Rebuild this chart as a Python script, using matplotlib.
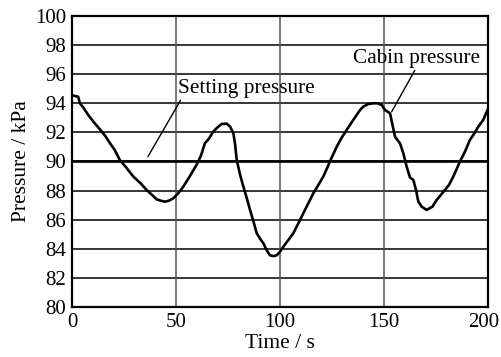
import matplotlib.pyplot as plt
from matplotlib.transforms import ScaledTranslation

plt.rcParams['font.family'] = ['Liberation Serif', 'DejaVu Serif']

# cabin pressure trace, read point by point
time_s = [0, 1.5, 3, 3.8, 5.5, 7.8, 10.5, 13.5, 16, 18.3, 20.5, 23, 26, 29.5, 33, 35.9,
          38.5, 40.7, 42.8, 44.7, 46.5, 48.7, 51, 53.5, 56.7, 60, 62, 63.9, 66, 67.9, 70,
          72, 74.4, 76, 77.6, 78.4, 79.2, 80.8, 82.4, 84, 85.6, 87.2, 88.8, 90.4, 92, 93.6,
          95.2, 96.8, 98.4, 100, 101.6, 104, 106.4, 109, 111.2, 114.4, 116, 118.5, 120.8,
          122.5, 124, 125.6, 127.3, 129.5, 132, 135.2, 138.5, 140, 142.5, 144.9, 147,
          148.9, 150.5, 152.9, 155.3, 157.7, 159.3, 160.9, 162.5, 164.1, 165.4, 166.5,
          168.1, 170.5, 173.3, 175.3, 177.3, 179.3, 181.3, 183.3, 185, 186.5, 189,
          191.3, 193.3, 195.3, 197.7, 199, 200]
cabin_kpa = [94.55, 94.5, 94.45, 94.0, 93.7, 93.2, 92.7, 92.2, 91.75, 91.25, 90.8, 90.1,
             89.6, 88.96, 88.5, 88.04, 87.7, 87.4, 87.3, 87.24, 87.3, 87.47, 87.8, 88.27,
             89.0, 89.8, 90.4, 91.25, 91.6, 92.05, 92.35, 92.58, 92.6, 92.4, 91.94, 91.2,
             90.1, 89.1, 88.27, 87.5, 86.67, 85.9, 85.07, 84.7, 84.38, 83.9, 83.55, 83.5,
             83.55, 83.8, 84.14, 84.6, 85.07, 85.8, 86.44, 87.35, 87.81, 88.4, 88.96, 89.5,
             90.0, 90.5, 91.02, 91.6, 92.16, 92.85, 93.54, 93.77, 93.95, 94.0, 94.0, 93.88,
             93.54, 93.31, 91.7, 91.25, 90.56, 89.64, 88.9, 88.73, 88.04, 87.24, 86.9,
             86.67, 86.9, 87.35, 87.7, 88.04, 88.4, 88.96, 89.5, 89.99, 90.7, 91.48, 91.9,
             92.39, 92.85, 93.3, 93.6]

setting_kpa = 90.0

xticks = [0, 50, 100, 150, 200]
yticks = [80, 82, 84, 86, 88, 90, 92, 94, 96, 98, 100]

fig = plt.figure(figsize=(5.02, 3.57), dpi=100)
ax = fig.add_axes([0.1434, 0.1401, 0.8287, 0.8151])

for y in yticks[1:-1]:
    ax.axhline(y, color='black', lw=1.1, zorder=1)
for x in xticks[1:-1]:
    ax.axvline(x, color='#555555', lw=1.1, zorder=1)

ax.plot([0, 199], [setting_kpa, setting_kpa], color='black', lw=1.9, zorder=2)
ax.plot(time_s, cabin_kpa, color='black', lw=1.9, zorder=3)

ax.set_xlim(0, 200)
ax.set_ylim(80, 100)
ax.set_xticks(xticks)
ax.set_yticks(yticks)
ax.tick_params(length=0, labelsize=15, pad=4, colors='black')
for s in ax.spines.values():
    s.set_linewidth(1.6)

# keep the last x label inside the figure
last = ax.get_xticklabels()[-1]
last.set_transform(last.get_transform() + ScaledTranslation(-4 / 100, 0, fig.dpi_scale_trans))

ax.set_xlabel('Time / s', fontsize=15.5, labelpad=2)
ax.set_ylabel('Pressure / kPa', fontsize=15.5, labelpad=3)

ax.annotate('Setting pressure', xy=(36.5, 90.33), xytext=(51, 95.05),
            fontsize=15.3, va='center', ha='left',
            arrowprops=dict(arrowstyle='-', color='black', lw=1.0, shrinkA=0, shrinkB=0,
                            relpos=(0.03, 0.0)))
ax.annotate('Cabin pressure', xy=(153.7, 93.42), xytext=(135, 97.1),
            fontsize=15.3, va='center', ha='left',
            arrowprops=dict(arrowstyle='-', color='black', lw=1.0, shrinkA=0, shrinkB=0,
                            relpos=(0.5, 0.0)))

fig.savefig('out.png', dpi=100)
